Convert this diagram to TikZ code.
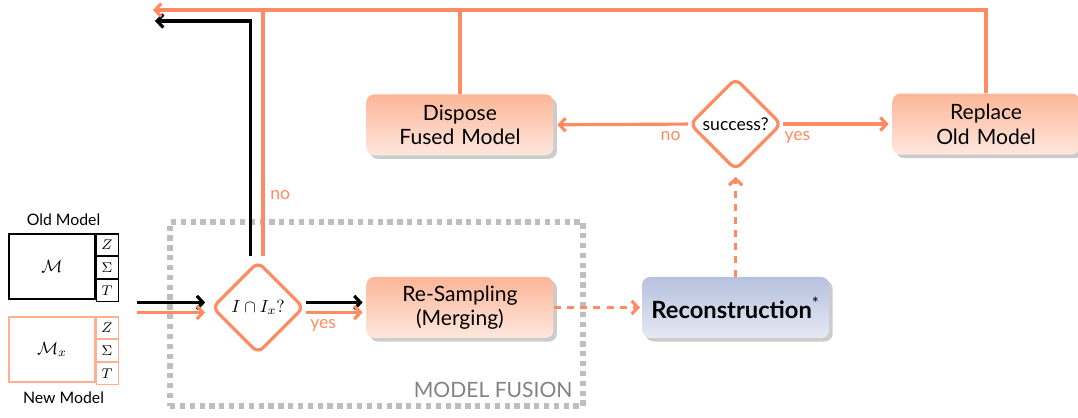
\documentclass[tikz,border=0pt]{standalone}
\usepackage{fontspec}
\setmainfont{Lato}
\usetikzlibrary{shapes,arrows.meta,positioning,calc,shadows}

\definecolor{fuseorange}{RGB}{255,139,98}
\definecolor{lightorange}{RGB}{255,176,145}
\definecolor{boxtop}{RGB}{252,182,152}
\definecolor{boxbottom}{RGB}{254,231,222}
\definecolor{recontop}{RGB}{182,193,222}
\definecolor{reconbottom}{RGB}{229,233,244}
\definecolor{fusiongray}{RGB}{190,190,190}
\definecolor{fusiontext}{RGB}{130,130,130}

\begin{document}
\begin{tikzpicture}[node distance=1.26cm and 1.76cm, >={Straight Barb[length=3.5pt,width=7.5pt]}]
    % Define styles
    \tikzstyle{process}=[rectangle,rounded corners=4.5pt,top color=boxtop,bottom color=boxbottom,text width=3.5cm,align=center,minimum width=3.74cm,minimum height=1.22cm,font=\large,drop shadow={shadow xshift=2pt,shadow yshift=-2pt,opacity=0.4}]
    \tikzstyle{decision}=[diamond,draw=fuseorange,line width=1.8pt,rounded corners=4pt,fill=white,minimum width=1.84cm,minimum height=1.84cm,inner sep=0pt,aspect=1]
    \tikzstyle{model}=[rectangle,draw,line width=0.6pt,minimum width=1.72cm,minimum height=1.3cm]
    \tikzstyle{param}=[rectangle,draw,line width=0.6pt,minimum width=0.44cm,minimum height=0.433cm,inner sep=0pt,font=\footnotesize,anchor=north west]
    \tikzstyle{line}=[draw=fuseorange,line width=1.8pt]
    \tikzstyle{bline}=[draw=black,line width=1.8pt]
    \tikzstyle{dline}=[line,dash pattern=on 4pt off 3.5pt]
    \tikzstyle{answer}=[text=fuseorange]

    \useasboundingbox (0,0) rectangle (21.56,8.34);

    % Input models
    \node [model] (oldm) at (1.04,3.01) {$\mathcal{M}$};
    \node [param] (oldz) at (oldm.north east) {$Z$};
    \node [param] (olds) at (oldz.south west) {$\Sigma$};
    \node [param] (oldt) at (olds.south west) {$T$};
    \node [above=1pt,font=\small] (oldlabel) at ($(oldm.north west)!0.5!(oldz.north east)$) {Old Model};

    \node [model,draw=lightorange] (newm) at (1.04,1.35) {$\mathcal{M}_x$};
    \node [param,draw=lightorange] (newz) at (newm.north east) {$Z$};
    \node [param,draw=lightorange] (news) at (newz.south west) {$\Sigma$};
    \node [param,draw=lightorange] (newt) at (news.south west) {$T$};
    \node [below=1pt,font=\small] (newlabel) at ($(newm.south west)!0.5!(newt.south east)$) {New Model};

    % Model fusion
    \node [draw=fusiongray,line width=3.2pt,dash pattern=on 3pt off 2.6pt,minimum width=8.26cm,minimum height=3.68cm] (fusion) at (7.53,2.06) {};
    \node [text=fusiontext,anchor=base east,inner sep=0pt,font=\large] (fusionlabel) at ($(fusion.south east)+(-0.26,0.22)$) {MODEL FUSION};

    \node [decision] (check) at (5.16,2.19) {$I \cap I_x?$};
    \node [process, right=1.21cm of check] (resamp) {Re-Sampling\\(Merging)};
    \node [process, right=1.76cm of resamp, top color=recontop, bottom color=reconbottom, font=\fontsize{13.5}{16}\selectfont] (recon) {\textbf{Reconstruction}\textsuperscript{*}};

    % Decision on result
    \node [decision, above=2.1cm of recon] (success) {success?};
    \node [process, above=2.42cm of resamp] (dispose) {Dispose\\Fused Model};
    \node [process, right=2.18cm of success] (replace) {Replace\\Old Model};

    % Free ends
    \coordinate (oldin) at ([xshift=-1.46cm,yshift=0.1cm]check.west);
    \coordinate (newin) at ([xshift=-1.46cm,yshift=-0.1cm]check.west);
    \coordinate (topleft) at (3.06,8.14);
    \coordinate (blackleft) at (3.1,7.92);

    % Define connections
    \draw [bline,->,shorten >=3pt] (oldin) -- ([yshift=0.1cm]check.west);
    \draw [line,->,shorten >=3pt] (newin) -- ([yshift=-0.1cm]check.west);
    \draw [bline,->,shorten >=2pt] ([yshift=0.1cm]check.east) -- ([yshift=0.1cm]resamp.west);
    \draw [line,->,shorten >=2pt] ([yshift=-0.1cm]check.east) -- node [answer,below,pos=0.29] {yes} ([yshift=-0.1cm]resamp.west);
    \draw [bline,->] ([xshift=-0.15cm,yshift=2pt]check.north) |- (blackleft);
    \draw [line] ([xshift=0.1cm,yshift=2pt]check.north) -- node [answer,right,pos=0.25] {no} ([xshift=0.1cm]check.north |- topleft);
    \draw [dline,->,shorten >=1pt] (resamp.east) -- (recon.west);
    \draw [dline,->,shorten >=3pt] (recon.north) -- (success.south);
    \draw [line,->,shorten >=2pt] (success.west) -- node [answer,below,pos=0.13] {no} (dispose.east);
    \draw [line,->,shorten >=2pt] (success.east) -- node [answer,below,pos=0.13] {yes} (replace.west);
    \draw [line,->] (replace.north) |- (topleft);
    \draw [line] (dispose.north) -- (dispose.north |- topleft);
\end{tikzpicture}
\end{document}
